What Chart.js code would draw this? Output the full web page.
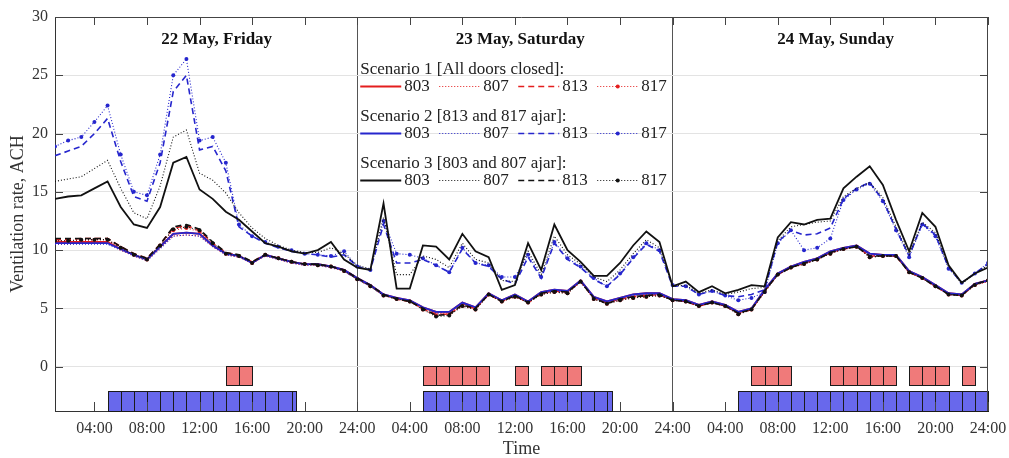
<!DOCTYPE html>
<html>
<head>
<meta charset="utf-8">
<script src="https://cdn.jsdelivr.net/npm/chart.js@4.4.1/dist/chart.umd.min.js"></script>
<style>
  html, body { margin: 0; padding: 0; background: #fff; }
  #wrap { width: 1009px; height: 458px; }
</style>
</head>
<body>
<div id="wrap"><canvas id="chart" width="1009" height="458"></canvas></div>
<script>
// hourly samples over three days (hour 1 .. 72)
const hours = Array.from({ length: 72 }, (_, i) => i + 1);
const tickHours = [4, 8, 12, 16, 20, 24, 28, 32, 36, 40, 44, 48, 52, 56, 60, 64, 68, 72];
const tickLabels = ['04:00', '08:00', '12:00', '16:00', '20:00', '24:00',
                    '04:00', '08:00', '12:00', '16:00', '20:00', '24:00',
                    '04:00', '08:00', '12:00', '16:00', '20:00', '24:00'];
const yTicks = [0, 5, 10, 15, 20, 25, 30];
const dayTitles = ['22 May, Friday', '23 May, Saturday', '24 May, Sunday'];
const rooms = ['803', '807', '813', '817'];
const scenarios = ['Scenario 1 [All doors closed]:', 'Scenario 2 [813 and 817 ajar]:', 'Scenario 3 [803 and 807 ajar]:'];

// Scenario 1 - all doors closed
const s1_803 = [10.7,10.7,10.7,10.7,10.7,10.1,9.6,9.2,10.3,11.4,11.5,11.4,10.4,9.7,9.5,8.9,9.6,9.3,9.0,8.8,8.8,8.6,8.3,7.6,
                7.0,6.2,5.9,5.7,5.1,4.7,4.7,5.5,5.1,6.3,5.7,6.2,5.6,6.4,6.6,6.5,7.4,6.0,5.6,5.9,6.2,6.3,6.3,5.8,
                5.7,5.3,5.6,5.3,4.7,5.0,6.6,8.0,8.6,9.0,9.3,9.9,10.2,10.4,9.7,9.6,9.6,8.2,7.7,7.0,6.3,6.2,7.1,7.4];
const s1_807 = [10.5,10.5,10.6,10.6,10.6,10.0,9.5,9.1,10.2,11.2,11.3,11.2,10.3,9.6,9.4,8.9,9.5,9.2,8.9,8.7,8.7,8.5,8.2,7.5,
                6.9,6.1,5.9,5.6,5.0,4.6,4.6,5.4,5.0,6.2,5.6,6.1,5.5,6.3,6.5,6.4,7.3,5.9,5.5,5.8,6.1,6.2,6.2,5.7,
                5.6,5.2,5.5,5.2,4.6,4.9,6.5,7.9,8.5,8.9,9.2,9.8,10.1,10.3,9.6,9.5,9.5,8.1,7.6,6.9,6.2,6.1,7.0,7.3];
const s1_813 = [10.9,10.9,11.0,11.0,11.0,10.3,9.7,9.3,10.5,11.9,12.1,11.7,10.6,9.8,9.5,9.0,9.6,9.3,9.0,8.8,8.8,8.6,8.3,7.6,
                7.0,6.2,5.8,5.6,5.0,4.5,4.5,5.3,5.0,6.2,5.6,6.1,5.5,6.3,6.5,6.4,7.3,5.9,5.5,5.8,6.0,6.1,6.2,5.7,
                5.6,5.2,5.5,5.2,4.6,4.9,6.5,7.9,8.5,8.9,9.2,9.8,10.1,10.3,9.5,9.5,9.5,8.1,7.6,6.9,6.2,6.1,7.1,7.4];
const s1_817 = [10.8,10.8,10.8,10.9,10.9,10.2,9.6,9.2,10.4,11.7,11.9,11.6,10.5,9.7,9.5,8.9,9.6,9.3,9.0,8.8,8.7,8.6,8.2,7.5,
                6.9,6.1,5.8,5.6,4.9,4.4,4.5,5.2,4.9,6.2,5.6,6.0,5.5,6.2,6.4,6.3,7.3,5.8,5.4,5.7,5.9,6.0,6.1,5.7,
                5.6,5.2,5.5,5.2,4.5,4.9,6.4,7.9,8.5,8.8,9.2,9.7,10.1,10.3,9.4,9.5,9.5,8.1,7.6,6.9,6.2,6.1,7.0,7.4];

// Scenario 2 - 813 and 817 ajar
const s2_803 = [10.6,10.6,10.6,10.6,10.6,10.1,9.6,9.2,10.3,11.4,11.5,11.4,10.4,9.7,9.5,8.9,9.6,9.3,9.0,8.8,8.8,8.6,8.3,7.6,
                7.0,6.2,5.9,5.7,5.1,4.7,4.7,5.5,5.1,6.3,5.7,6.2,5.6,6.4,6.6,6.5,7.4,6.0,5.6,5.9,6.2,6.3,6.3,5.8,
                5.7,5.3,5.6,5.3,4.7,5.0,6.6,8.0,8.6,9.0,9.3,9.9,10.2,10.4,9.7,9.6,9.6,8.2,7.7,7.0,6.3,6.2,7.1,7.4];
const s2_807 = [10.5,10.5,10.5,10.5,10.5,10.0,9.5,9.1,10.1,11.2,11.3,11.2,10.3,9.6,9.4,8.9,9.5,9.2,8.9,8.7,8.7,8.5,8.2,7.5,
                6.9,6.1,5.9,5.6,5.1,4.6,4.7,5.4,5.1,6.2,5.7,6.1,5.6,6.3,6.5,6.4,7.3,5.9,5.5,5.8,6.1,6.2,6.2,5.7,
                5.6,5.3,5.5,5.2,4.7,5.0,6.5,7.9,8.5,8.9,9.2,9.8,10.1,10.3,9.6,9.5,9.5,8.1,7.6,6.9,6.2,6.1,7.1,7.4];
const s2_813 = [18.1,18.5,18.9,20.0,21.3,17.6,14.6,14.2,17.5,23.6,25.0,18.6,18.9,16.8,12.0,11.2,10.6,10.2,9.9,9.7,9.6,9.4,9.6,8.6,
                8.3,12.2,8.9,8.9,9.2,8.7,8.1,10.1,8.9,8.6,7.5,7.1,9.4,7.6,10.6,9.2,8.5,7.5,6.9,7.9,9.3,10.5,9.9,6.9,
                6.9,6.2,6.5,6.1,6.0,6.2,6.6,10.7,11.7,11.3,11.4,11.9,14.4,15.3,15.8,14.3,11.8,9.5,12.3,11.3,8.5,7.2,8.0,8.8];
const s2_817 = [18.9,19.4,19.7,21.0,22.4,18.2,15.0,14.7,18.2,25.0,26.4,19.4,19.7,17.5,12.2,11.2,10.7,10.3,10.0,9.7,9.6,9.5,9.9,8.6,
                8.3,12.5,9.7,9.6,9.3,8.7,8.1,10.2,8.9,8.7,7.7,7.7,9.6,7.7,10.7,9.3,8.6,7.6,6.9,8.0,9.4,10.6,10.0,7.0,
                6.9,6.2,6.5,6.1,5.7,5.9,6.4,10.6,11.7,10.0,10.2,11.0,14.3,15.2,15.7,14.2,11.7,9.4,12.2,11.2,8.4,7.2,8.0,8.9];

// Scenario 3 - 803 and 807 ajar
const s3_803 = [14.4,14.6,14.7,15.3,15.9,13.7,12.2,11.9,13.7,17.5,18.0,15.2,14.4,13.3,12.6,11.6,10.6,10.3,9.9,9.7,10.0,10.7,9.2,8.5,
                8.3,14.0,6.7,6.7,10.4,10.3,9.2,11.4,9.9,9.4,6.6,7.0,10.6,8.3,12.2,10.0,9.0,7.8,7.8,8.9,10.4,11.6,10.7,6.9,
                7.3,6.4,6.9,6.3,6.6,7.0,6.9,11.1,12.4,12.2,12.6,12.7,15.3,16.3,17.2,15.6,12.6,9.9,13.2,12.0,8.7,7.2,8.0,8.5];
const s3_807 = [15.9,16.1,16.3,17.0,17.7,15.3,13.2,12.7,15.5,19.7,20.3,16.6,16.0,14.9,13.2,11.9,11.0,10.4,10.0,9.8,9.8,10.2,9.7,8.7,
                8.4,12.8,7.9,7.9,9.5,9.2,8.5,10.6,9.2,8.9,7.4,7.3,9.9,7.9,11.2,9.6,8.8,7.7,7.3,8.3,9.7,10.9,10.2,6.9,
                7.0,6.3,6.6,6.2,6.4,6.7,6.8,10.8,12.0,12.2,12.4,12.5,14.6,15.3,15.8,14.5,12.0,9.6,12.4,11.5,8.6,7.1,8.0,8.7];
const s3_813 = [11.0,11.0,11.0,11.0,11.0,10.3,9.7,9.3,10.5,12.0,12.2,11.8,10.7,9.8,9.6,9.0,9.6,9.3,9.0,8.8,8.8,8.6,8.3,7.6,
                7.0,6.2,5.8,5.6,5.0,4.4,4.5,5.3,5.0,6.2,5.6,6.1,5.5,6.3,6.5,6.4,7.3,5.9,5.4,5.8,6.0,6.1,6.2,5.7,
                5.6,5.2,5.5,5.2,4.6,4.9,6.5,7.9,8.5,8.9,9.2,9.8,10.1,10.3,9.5,9.5,9.5,8.1,7.6,6.9,6.2,6.1,7.1,7.4];
const s3_817 = [10.8,10.8,10.9,10.9,10.9,10.2,9.6,9.2,10.4,11.8,12.0,11.7,10.6,9.7,9.5,8.9,9.6,9.3,9.0,8.8,8.7,8.6,8.2,7.5,
                6.9,6.1,5.8,5.6,4.9,4.3,4.4,5.2,4.9,6.2,5.6,6.0,5.5,6.2,6.4,6.3,7.3,5.8,5.4,5.7,5.9,6.0,6.1,5.7,
                5.6,5.2,5.5,5.2,4.5,4.9,6.4,7.9,8.5,8.8,9.2,9.7,10.1,10.3,9.4,9.5,9.5,8.1,7.6,6.9,6.2,6.1,7.0,7.4];

// occupancy periods, [start hour, end hour]
const redPeriods = [[14,15],[15,16],
                    [29,30],[30,31],[31,32],[32,33],[33,34],[36,37],[38,39],[39,40],[40,41],
                    [54,55],[55,56],[56,57],[60,61],[61,62],[62,63],[63,64],[64,65],[66,67],[67,68],[68,69],[70,71]];
const bluePeriods = [[5,6],[6,7],[7,8],[8,9],[9,10],[10,11],[11,12],[12,13],[13,14],[14,15],[15,16],[16,17],[17,18],[18,19],[19,19.35],
                     [29,30],[30,31],[31,32],[32,33],[33,34],[34,35],[35,36],[36,37],[37,38],[38,39],[39,40],[40,41],[41,42],[42,43],[43,43.4],
                     [53,54],[54,55],[55,56],[56,57],[57,58],[58,59],[59,60],[60,61],[61,62],[62,63],[63,64],[64,65],[65,66],[66,67],[67,68],[68,69],[69,70],[70,71],[71,72]];

const colors = ['rgb(228,30,30)', 'rgb(38,38,205)', '#111'];
const styles = {
  '803': { width: 1.8, dash: [], dots: false },
  '807': { width: 1.1, dash: [1, 2], dots: false },
  '813': { width: 1.6, dash: [6, 4], dots: false },
  '817': { width: 1.1, dash: [1, 2], dots: true }
};

const seriesSets = [
  [s1_803, s1_807, s1_813, s1_817],
  [s2_803, s2_807, s2_813, s2_817],
  [s3_803, s3_807, s3_813, s3_817]
];

const datasets = [];
seriesSets.forEach((set, si) => {
  set.forEach((vals, ri) => {
    const st = styles[rooms[ri]];
    datasets.push({
      label: 'S' + (si + 1) + ' ' + rooms[ri],
      data: vals,
      borderColor: colors[si],
      backgroundColor: colors[si],
      borderWidth: st.width,
      borderDash: st.dash,
      pointRadius: st.dots ? 2 : 0,
      pointBorderWidth: 0,
      pointBackgroundColor: colors[si],
      tension: 0,
      order: 3 - si
    });
  });
});

const serif = "'Liberation Serif', 'DejaVu Serif', serif";
Chart.defaults.font.family = serif;
Chart.defaults.color = '#333';

const decor = {
  id: 'decor',
  beforeDatasetsDraw(chart) {
    const { ctx, scales: { x, y } } = chart;
    ctx.save();
    ctx.lineWidth = 1;
    ctx.strokeStyle = '#1a1a1a';
    const box = (p, top, bot, fill) => {
      const l = Math.round(x.getPixelForValue(p[0])) + 0.5;
      const r = Math.round(x.getPixelForValue(p[1])) + 0.5;
      const t = Math.round(y.getPixelForValue(top)) + 0.5;
      const b = Math.round(y.getPixelForValue(bot)) + 0.5;
      ctx.fillStyle = fill;
      ctx.fillRect(l, t, r - l, b - t);
      ctx.strokeRect(l, t, r - l, b - t);
    };
    redPeriods.forEach(p => box(p, 0.1, -1.6, 'rgb(240,122,122)'));
    bluePeriods.forEach(p => box(p, -2.05, -3.8, 'rgb(104,104,236)'));
    ctx.restore();
  },
  afterDatasetsDraw(chart) {
    const { ctx, chartArea: a, scales: { x, y } } = chart;
    ctx.save();
    // frame and inward tick marks
    ctx.strokeStyle = '#444';
    ctx.lineWidth = 1;
    ctx.beginPath();
    ctx.moveTo(a.left, a.top + 0.5); ctx.lineTo(a.right, a.top + 0.5);
    ctx.moveTo(a.right - 0.5, a.top); ctx.lineTo(a.right - 0.5, a.bottom);
    tickHours.forEach(h => {
      const px = Math.round(x.getPixelForValue(h)) + 0.5;
      ctx.moveTo(px, a.bottom); ctx.lineTo(px, a.bottom - 9);
      ctx.moveTo(px, a.top); ctx.lineTo(px, a.top + 8);
    });
    yTicks.forEach(v => {
      const py = Math.round(y.getPixelForValue(v)) + 0.5;
      ctx.moveTo(a.right, py); ctx.lineTo(a.right - 8, py);
      ctx.moveTo(a.left, py); ctx.lineTo(a.left + 8, py);
    });
    ctx.stroke();

    // day headings
    ctx.fillStyle = '#111';
    ctx.font = 'bold 17px ' + serif;
    ctx.textAlign = 'center';
    ctx.textBaseline = 'middle';
    [13.3, 36.4, 60.4].forEach((h, i) => {
      ctx.fillText(dayTitles[i], x.getPixelForValue(h), a.top + 23);
    });

    // legend
    const left = x.getPixelForValue(24) + 3;
    ctx.font = '17px ' + serif;
    ctx.textAlign = 'left';
    scenarios.forEach((name, si) => {
      const hy = a.top + 53 + si * 47;
      ctx.fillStyle = '#222';
      ctx.fillText(name, left, hy);
      const ly = Math.round(hy + 16) + 0.5;
      rooms.forEach((room, ri) => {
        const st = styles[room];
        const sx = left + ri * 79;
        ctx.strokeStyle = colors[si];
        ctx.lineWidth = st.width;
        ctx.setLineDash(st.dash);
        ctx.beginPath();
        ctx.moveTo(sx, ly); ctx.lineTo(sx + 41, ly);
        ctx.stroke();
        ctx.setLineDash([]);
        if (st.dots) {
          ctx.fillStyle = colors[si];
          ctx.beginPath();
          ctx.arc(sx + 20.5, ly, 2, 0, Math.PI * 2);
          ctx.fill();
        }
        ctx.fillStyle = '#222';
        ctx.fillText(room, sx + 44, ly);
      });
    });
    ctx.restore();
  }
};

new Chart(document.getElementById('chart'), {
  type: 'line',
  data: { labels: hours, datasets: datasets },
  options: {
    responsive: false,
    animation: false,
    devicePixelRatio: 1,
    layout: { padding: { top: 17, right: 21, left: 0, bottom: 0 } },
    plugins: { legend: { display: false }, tooltip: { enabled: false } },
    scales: {
      x: {
        type: 'linear',
        min: 1,
        max: 72,
        afterBuildTicks: s => { s.ticks = tickHours.map(v => ({ value: v })); },
        afterFit: s => { s.height = 47; s.paddingLeft = 0; s.paddingRight = 0; },
        ticks: {
          autoSkip: false,
          maxRotation: 0,
          padding: 8,
          color: '#333',
          font: { size: 16 },
          callback: (v, i) => tickLabels[i]
        },
        grid: {
          drawTicks: false,
          lineWidth: 1,
          color: c => (c.tick && (c.tick.value === 24 || c.tick.value === 48)) ? '#555' : 'rgba(0,0,0,0)'
        },
        border: { color: '#333', width: 1 },
        title: { display: true, text: 'Time', color: '#333', font: { size: 18, lineHeight: 1 }, padding: { top: 0, bottom: 0 } }
      },
      y: {
        min: -3.8,
        max: 30,
        afterBuildTicks: s => { s.ticks = yTicks.map(v => ({ value: v })); },
        afterFit: s => { s.width = 55; },
        ticks: { padding: 7, color: '#333', font: { size: 16 } },
        grid: { drawTicks: false, color: '#e3e3e3', lineWidth: 1 },
        border: { color: '#333', width: 1 },
        title: { display: true, text: 'Ventilation rate, ACH', color: '#333', font: { size: 18, lineHeight: 1 }, padding: { top: 9, bottom: 0 } }
      }
    }
  },
  plugins: [decor]
});
</script>
</body>
</html>
